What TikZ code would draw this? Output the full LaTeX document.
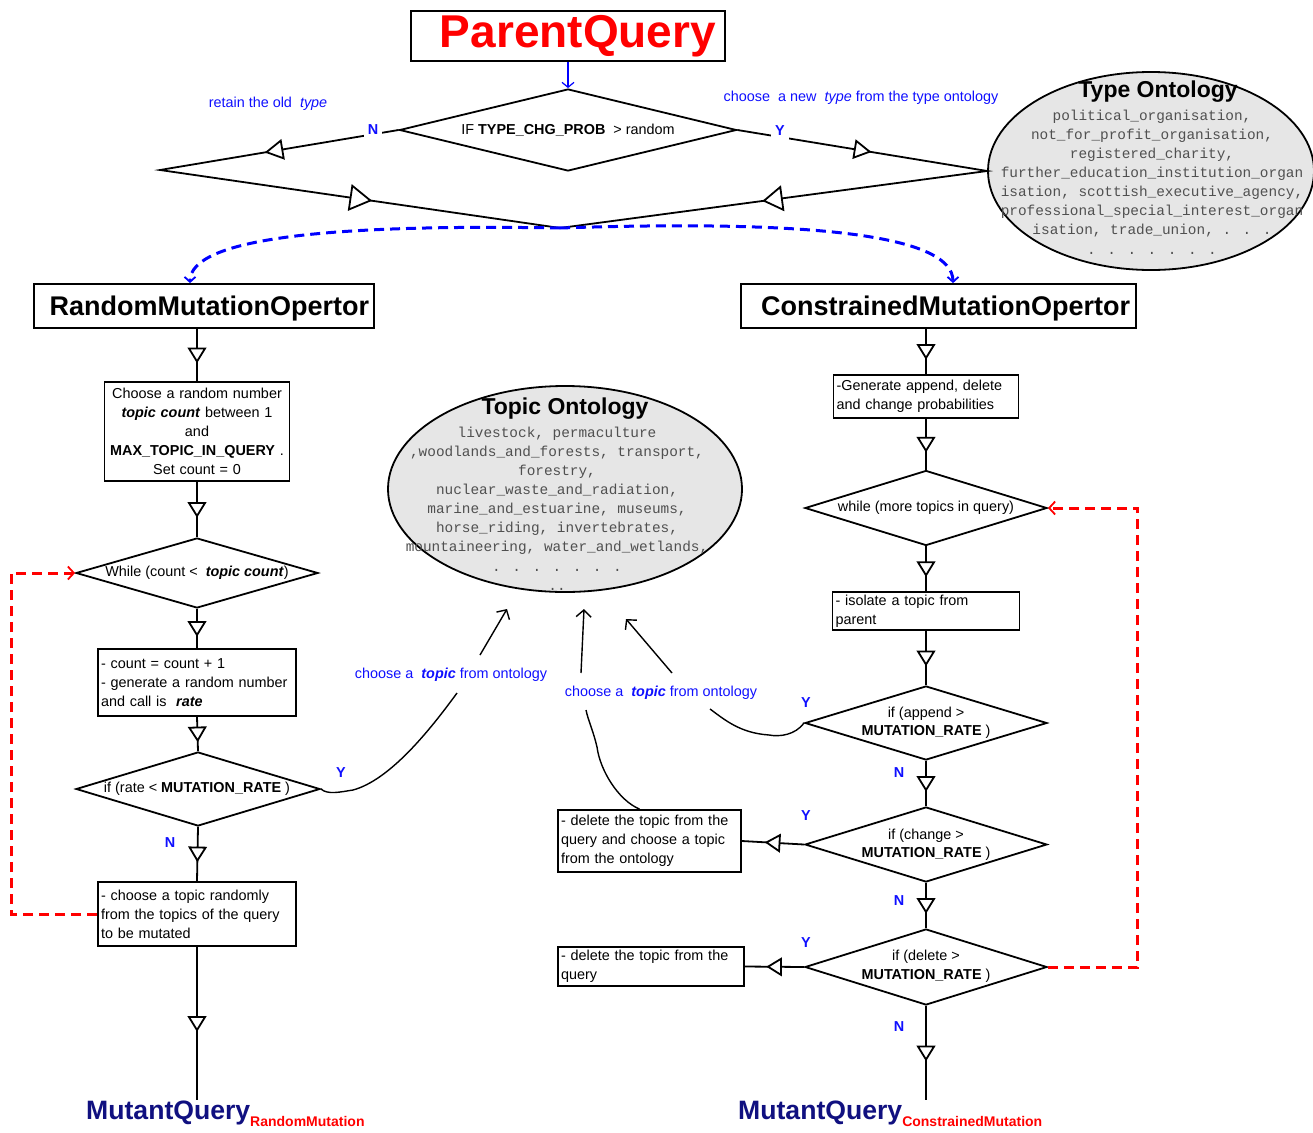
\documentclass[tikz,border=0pt]{standalone}
\usepackage{fontspec}
\setmainfont{Liberation Sans}
\newfontfamily\ontmono{Liberation Mono}
\usetikzlibrary{arrows.meta,decorations.markings,shapes.geometric}

\definecolor{lblblue}{RGB}{15,15,255}
\definecolor{navyq}{RGB}{16,16,128}
\definecolor{ontgray}{RGB}{230,230,230}
\definecolor{onttext}{RGB}{80,80,80}

\newcommand\bodytxt{\fontsize{14.4}{19}\selectfont}
% open triangle marker centred on a path point: half length #1, half width #2
\newcommand\opentri[2]{\draw[line width=1.8pt, fill=white, solid, line join=miter]
  (#1pt,0pt) -- (-#1pt,#2pt) -- (-#1pt,-#2pt) -- cycle;}

\tikzset{
  every node/.style={inner sep=0pt},
  ln/.style={line width=1.8pt, line join=miter},
  flow/.style={ln, postaction={decorate, decoration={markings,
      mark=at position 0.5 with {\opentri{6.5}{8}}}}},
  box/.style={draw, line width=1.8pt, rectangle, inner xsep=3pt, inner ysep=0pt,
      font=\bodytxt, align=left},
  titlebox/.style={draw, line width=1.8pt, rectangle, inner ysep=0pt, align=right},
  dia/.style={draw, diamond, line width=1.8pt, inner sep=0pt},
  dtext/.style={font=\bodytxt, align=center},
  yn/.style={text=lblblue, font=\bfseries\bodytxt},
  blab/.style={text=lblblue, font=\bodytxt},
  onto/.style={ellipse, draw, line width=1.8pt, fill=ontgray, inner sep=0pt},
  ontotitle/.style={font=\bfseries\fontsize{23}{25}\selectfont},
  onttxt/.style={font=\ontmono\fontsize{14.4}{19.1}\selectfont, text=onttext, align=center},
  redloop/.style={red, line width=3pt, dash pattern=on 10pt off 6pt,
      -{Straight Barb[length=6pt,width=13pt,line width=1.8pt]}},
  blueloop/.style={blue, line width=3pt, dash pattern=on 10pt off 6pt,
      -{Straight Barb[length=5pt,width=11pt,line width=1.8pt]}},
  hand/.style={line width=1.4pt},
  pick/.style={line width=1.4pt, -{Straight Barb[length=7pt,width=15pt,line width=1.4pt]}},
}

\begin{document}
\begin{tikzpicture}[x=1pt,y=-1pt]
\useasboundingbox (0,0) rectangle (1313,1132);

% ---------- ontologies ----------
\node[onto, minimum width=326, minimum height=198] (tont) at (1151,171) {};
\node[ontotitle] (tontT) at (1158,92) {Type Ontology};
\node[onttxt] (tontL) at (1152,182) {political\_organisation,\\
not\_for\_profit\_organisation,\\
registered\_charity,\\
further\_education\_institution\_organ\\
isation, scottish\_executive\_agency,\\
professional\_special\_interest\_organ\\
isation, trade\_union, . . .\\
. . . . . . .};

\node[onto, minimum width=354, minimum height=206] (topo) at (565,489) {};
\node[ontotitle] (topoT) at (565,409) {Topic Ontology};
\node[onttxt] (topoL) at (557,508.5) {livestock, permaculture\\
,woodlands\_and\_forests, transport,\\
forestry,\\
nuclear\_waste\_and\_radiation,\\
marine\_and\_estuarine, museums,\\
horse\_riding, invertebrates,\\
mountaineering, water\_and\_wetlands,\\
. . . . . . .\\
..};

% ---------- type decision ----------
\node[titlebox, minimum width=314, minimum height=50, inner xsep=9pt, text width=296,
      text=red, font=\bfseries\fontsize{46}{50}\selectfont] (pq) at (568,36) {ParentQuery};
\node[dia, minimum width=337, minimum height=82] (d0) at (568,130) {};
\node[dtext] (d0t) at (568,130) {IF \textbf{TYPE\_CHG\_PROB} \ > random};
\draw[blue, line width=1.2pt, -{Straight Barb[length=5pt,width=12pt,line width=1.2pt]}] (pq.south) -- (d0.north);

\coordinate (lp) at (160,170);
\coordinate (mp) at (560,228);
\draw[ln, postaction={decorate, decoration={markings,
    mark=at position 0.195 with {\opentri{8}{9}},
    mark=at position 0.688 with {\opentri{10}{12}}}}] (d0.west) -- (lp) -- (mp);
\draw[ln, postaction={decorate, decoration={markings,
    mark=at position 0.185 with {\opentri{7.5}{8.5}},
    mark=at position 0.686 with {\opentri{9}{11.5}}}}] (d0.east) -- (tont.west) -- (mp);
\node[yn, fill=white, inner sep=4pt] (nT) at (373,130) {N};
\node[yn, fill=white, inner sep=4pt] (yT) at (780,131) {Y};
\node[blab] (retain) at (268,104) {retain the old \ \textit{type}};
\node[blab] (newtype) at (861,98) {choose \ a new \ \textit{type} from the type ontology};

% ---------- operators ----------
\node[titlebox, minimum width=340, minimum height=44, inner xsep=5pt, text width=330, text depth=0pt,
      font=\bfseries\fontsize{27}{30}\selectfont] (rmo) at (204,306) {RandomMutationOpertor};
\node[titlebox, minimum width=395, minimum height=44, inner xsep=6pt, text width=383, text depth=0pt,
      font=\bfseries\fontsize{27}{30}\selectfont] (cmo) at (938.5,306) {ConstrainedMutationOpertor};
\draw[blueloop] (mp) .. controls (330,224) and (190,238) .. ([xshift=-14pt]rmo.north);
\draw[blueloop] (mp) .. controls (800,220) and (953,233) .. ([xshift=14.5pt]cmo.north);

% ---------- random mutation ----------
\node[box, align=center, minimum width=185, minimum height=99, text width=179] (cb) at (197,431.5)
  {Choose a random number\\ \textbf{\textit{topic count}} between 1\\ and\\
   \textbf{MAX\_TOPIC\_IN\_QUERY}~.\\ Set count = 0};
\node[dia, minimum width=242, minimum height=70] (wl) at (197,573) {};
\node[dtext] (wlt) at (197,573) {While (count < \ \textbf{\textit{topic count}})};
\node[box, minimum width=198, minimum height=67, text width=192] (cnt) at (197,682.5)
  {- count = count + 1\\ - generate a random number\\ and call is \ \textbf{\textit{rate}}};
\node[dia, minimum width=244, minimum height=74] (rt) at (198,789) {};
\node[dtext] (rtt) at (197,789) {if (rate < \textbf{MUTATION\_RATE} )};
\node[box, minimum width=198, minimum height=64, text width=192] (ct) at (197,914)
  {- choose a topic randomly\\ from the topics of the query\\ to be mutated};
\node[anchor=base west, font=\bfseries] (mq1) at (86,1119)
  {\textcolor{navyq}{\fontsize{26.6}{28}\selectfont MutantQuery}\raisebox{-7.5pt}{\textcolor{red}{\fontsize{14}{16}\selectfont RandomMutation}}};

\draw[flow] (cb.north |- rmo.south) -- (cb.north);
\draw[flow] (cb.south) -- (wl.north);
\draw[flow] (wl.south) -- (cnt.north);
\draw[flow] (cnt.south) -- (rt.north);
\draw[flow] (rt.south) -- (ct.north);
\draw[flow] (ct.south) -- (ct.south |- mq1.north);
\draw[redloop] (ct.west) -| ([xshift=-64pt]wl.west) -- (wl.west);
\node[yn] (yR) at (341,773) {Y};
\node[yn] (nR) at (170,843) {N};

\node[blab] (lblA) at (451,675) {choose a \ \textbf{\textit{topic}} from ontology};
\coordinate (ca) at (457,693);
\coordinate (a1s) at (480,655);
\coordinate (a1e) at (507,609);
\draw[hand] (rt.east) .. controls (328,795) and (340,792) .. (353,790)
   .. controls (390,780) and (430,730) .. (ca);
\draw[pick] (a1s) -- (a1e);

% ---------- constrained mutation ----------
\node[box, minimum width=185, minimum height=43, text width=179] (gen) at (926,396.5)
  {-Generate append, delete\\ and change probabilities};
\node[dia, minimum width=242, minimum height=75] (wr) at (926,508) {};
\node[dtext] (wrt) at (926,508) {while (more topics in query)};
\node[box, minimum width=187, minimum height=38, text width=181] (iso) at (926,611)
  {- isolate a topic from\\ parent};
\node[dia, minimum width=242, minimum height=74] (ap) at (926,723) {};
\node[dtext, font=\fontsize{14.4}{18}\selectfont] (apt) at (926,723) {if (append >\\ \textbf{MUTATION\_RATE} )};
\node[dia, minimum width=242, minimum height=75] (ch) at (926,844.5) {};
\node[dtext, font=\fontsize{14.4}{18.5}\selectfont] (cht) at (926,845) {if (change >\\ \textbf{MUTATION\_RATE} )};
\node[dia, minimum width=242, minimum height=76] (de) at (926,967) {};
\node[dtext, font=\fontsize{14.4}{18.5}\selectfont] (det) at (926,966.5) {if (delete >\\ \textbf{MUTATION\_RATE} )};
\node[box, minimum width=183, minimum height=62, text width=177] (dc) at (649.5,841)
  {- delete the topic from the\\ query and choose a topic\\ from the ontology};
\node[box, minimum width=186, minimum height=39, text width=180] (del) at (651,966.5)
  {- delete the topic from the\\ query};
\node[anchor=base west, font=\bfseries] (mq2) at (738,1119)
  {\textcolor{navyq}{\fontsize{26.6}{28}\selectfont MutantQuery}\raisebox{-7.5pt}{\textcolor{red}{\fontsize{14}{16}\selectfont ConstrainedMutation}}};

\draw[flow] (gen.north |- cmo.south) -- (gen.north);
\draw[flow] (gen.south) -- (wr.north);
\draw[flow] (wr.south) -- (iso.north);
\draw[flow] (iso.south) -- (ap.north);
\draw[flow] (ap.south) -- (ch.north);
\draw[flow] (ch.south) -- (de.north);
\draw[flow] (de.south) -- (de.south |- mq2.north);
\draw[flow] (ch.west) -- (dc.east);
\draw[flow] (de.west) -- (del.east);
\draw[redloop] (de.east) -| ([xshift=90pt]wr.east) -- (wr.east);

\node[yn] (yA) at (806,703) {Y};
\node[yn] (nA) at (899,773) {N};
\node[yn] (yC) at (806,816) {Y};
\node[yn] (nC) at (899,901) {N};
\node[yn] (yD) at (806,943) {Y};
\node[yn] (nD) at (899,1027) {N};

\node[blab] (lblB) at (661,693) {choose a \ \textbf{\textit{topic}} from ontology};
\coordinate (cb1) at (710,709);
\coordinate (cb2) at (586,710);
\coordinate (b1s) at (581,673);
\coordinate (b1e) at (584,609);
\coordinate (b2s) at (672,673);
\coordinate (b2e) at (626,619);
\draw[hand] (ap.west) .. controls (795,735) and (780,737) .. (769,735)
   .. controls (740,733) and (725,720) .. (cb1);
\draw[hand] ([xshift=-10pt]dc.north) .. controls (618,800) and (600,770) .. (597,747)
   .. controls (593,730) and (588,720) .. (cb2);
\draw[pick] (b1s) -- (b1e);
\draw[pick] (b2s) -- (b2e);
\end{tikzpicture}
\end{document}
